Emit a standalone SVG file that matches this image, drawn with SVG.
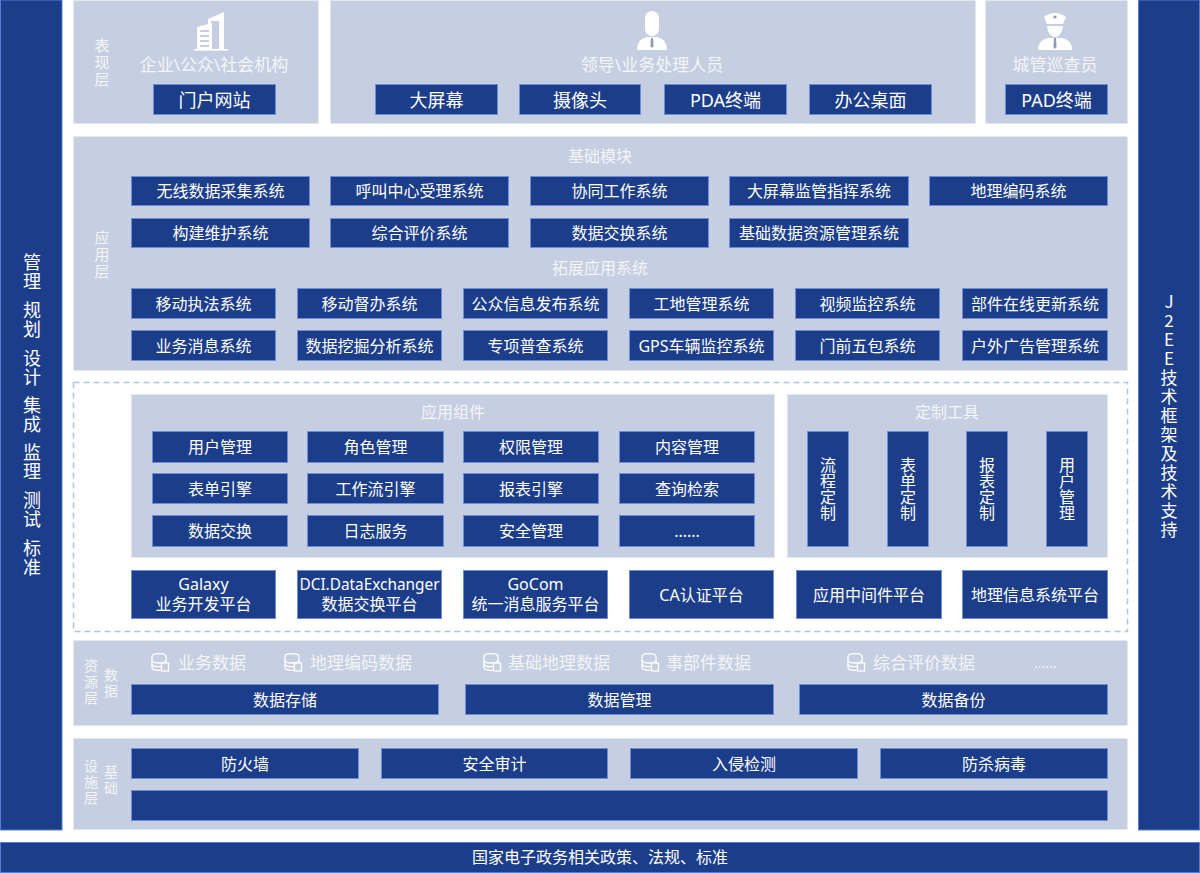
<svg xmlns="http://www.w3.org/2000/svg" xmlns:xlink="http://www.w3.org/1999/xlink" width="1200" height="873" viewBox="0 0 1200 873">
<style>
.panel{fill:#c6cfe1;stroke:#e2e7f1;stroke-width:1;stroke-dasharray:3 2}
.box{fill:#1b3d8a;stroke:#6d8ddc;stroke-width:1}
.bar{fill:#1b3d8a;stroke:#5a7cd2;stroke-width:1}
.t{font-family:"Noto Sans","Noto Sans CJK SC",sans-serif;fill:#ffffff;text-anchor:middle;dominant-baseline:central}
.v{font-family:"Noto Sans CJK SC","Noto Sans",sans-serif;fill:#ffffff;text-anchor:middle;writing-mode:vertical-rl;text-orientation:upright}
.s{text-anchor:start}
.f18{font-size:18px}.f17{font-size:17px}.f16{font-size:16px}.f15{font-size:15px}.f14{font-size:14px}
.lbl{fill:#f3f5fa}
.ic{fill:#ffffff}
.icb{fill:#c6cfe1}
</style>
<defs>
<symbol id="db" viewBox="0 0 20 20">
<g fill="none" stroke="#ffffff" stroke-width="1.3">
<path d="M2,4.5 A7,2.8 0 0 1 16,4.5 V15.5 A7,2.8 0 0 1 2,15.5 Z"/>
<path d="M2,8.2 A7,2.8 0 0 0 16,8.2"/>
<path d="M2,11.9 A7,2.8 0 0 0 16,11.9"/>
</g>
<rect x="11.5" y="11" width="7" height="8" fill="#c6cfe1" stroke="#ffffff" stroke-width="1.3"/>
</symbol>
</defs>

<!-- side bars -->
<g id="left-bar">
<rect class="bar" x="0.5" y="0" width="61.5" height="830"/>
<g class="v f18" letter-spacing="1">
<text x="32" y="272">管理</text>
<text x="32" y="320">规划</text>
<text x="32" y="368">设计</text>
<text x="32" y="415">集成</text>
<text x="32" y="462">监理</text>
<text x="32" y="510">测试</text>
<text x="32" y="558">标准</text>
</g>
</g>
<g id="right-bar">
<rect class="bar" x="1138.5" y="0" width="61" height="830"/>
<text class="v f17" letter-spacing="2" x="1169" y="417">J2EE技术框架及技术支持</text>
</g>
<g id="bottom-bar">
<rect class="bar" x="0.5" y="842.5" width="1199" height="30"/>
<text class="t f16" x="600" y="857">国家电子政务相关政策、法规、标准</text>
</g>

<!-- presentation layer -->
<g id="pres-1">
<rect class="panel" x="73.5" y="0.5" width="245" height="123"/>
<text class="v f15 lbl" letter-spacing="2" x="102" y="63">表现层</text>
<g id="icon-building">
<polygon class="ic" points="208,19 224,12 224,50 208,50"/>
<rect class="icb" x="211" y="21" width="8" height="29"/>
<polygon class="ic" points="197,27 212,23 212,50 197,50"/>
<rect class="icb" x="200" y="30" width="9" height="2"/>
<rect class="icb" x="200" y="35" width="9" height="2"/>
<rect class="icb" x="200" y="40" width="9" height="2"/>
<rect class="icb" x="200" y="45" width="9" height="2"/>
<rect class="ic" x="194" y="49" width="34" height="1.6"/>
</g>
<text class="t f17 lbl" x="214" y="64">企业\公众\社会机构</text>
<g id="n-portal"><rect class="box" x="153.5" y="84.5" width="122" height="30"/><text class="t f18" x="214.5" y="99.5">门户网站</text></g>
</g>

<g id="pres-2">
<rect class="panel" x="330.5" y="0.5" width="645" height="123"/>
<g id="icon-person">
<rect class="ic" x="645" y="11" width="14" height="25" rx="7" ry="7"/>
<path class="ic" d="M637,50 Q637,39 647,37 L657,37 Q667,39 667,50 Z"/>
<polygon points="651,38 653,38 653.6,46 652,48 650.4,46" fill="#8f9bb8"/>
</g>
<text class="t f17 lbl" x="652" y="64">领导\业务处理人员</text>
<g id="n-bigscreen"><rect class="box" x="375.5" y="84.5" width="122" height="30"/><text class="t f18" x="436.5" y="99.5">大屏幕</text></g>
<g id="n-camera"><rect class="box" x="519.5" y="84.5" width="121" height="30"/><text class="t f18" x="580" y="99.5">摄像头</text></g>
<g id="n-pda"><rect class="box" x="664.5" y="84.5" width="122" height="30"/><text class="t f18" x="725.5" y="99.5">PDA终端</text></g>
<g id="n-desktop"><rect class="box" x="809.5" y="84.5" width="122" height="30"/><text class="t f18" x="870.5" y="99.5">办公桌面</text></g>
</g>

<g id="pres-3">
<rect class="panel" x="985.5" y="0.5" width="142" height="123"/>
<g id="icon-police">
<path class="ic" d="M1044,17 Q1055,9 1066,17 L1063,24 L1047,24 Z"/>
<circle cx="1055" cy="17" r="1.6" fill="#8f9bb8"/>
<path class="ic" d="M1047,26 L1063,26 L1062,31 Q1059,37 1055,37 Q1051,37 1048,31 Z"/>
<path class="ic" d="M1038,50 Q1038,40 1048,38 L1062,38 Q1072,40 1072,50 Z"/>
<polygon points="1054,38 1056,38 1056.6,47 1055,49 1053.4,47" fill="#8f9bb8"/>
</g>
<text class="t f17 lbl" x="1055" y="64">城管巡查员</text>
<g id="n-pad"><rect class="box" x="1005.5" y="84.5" width="102" height="30"/><text class="t f18" x="1056.5" y="99.5">PAD终端</text></g>
</g>

<!-- application layer -->
<g id="app-layer">
<rect class="panel" x="73.5" y="136.5" width="1054" height="234"/>
<text class="v f15 lbl" letter-spacing="2" x="102" y="255">应用层</text>
<text class="t f16 lbl" x="600" y="156">基础模块</text>
<text class="t f16 lbl" x="600" y="268">拓展应用系统</text>
<g id="n-wx"><rect class="box" x="131.5" y="176.5" width="178" height="29"/><text class="t f16" x="220.5" y="191">无线数据采集系统</text></g>
<g id="n-hj"><rect class="box" x="330.5" y="176.5" width="178" height="29"/><text class="t f16" x="419.5" y="191">呼叫中心受理系统</text></g>
<g id="n-xt"><rect class="box" x="530.5" y="176.5" width="178" height="29"/><text class="t f16" x="619.5" y="191">协同工作系统</text></g>
<g id="n-dp"><rect class="box" x="729.5" y="176.5" width="179" height="29"/><text class="t f16" x="819" y="191">大屏幕监管指挥系统</text></g>
<g id="n-dl"><rect class="box" x="929.5" y="176.5" width="178" height="29"/><text class="t f16" x="1018.5" y="191">地理编码系统</text></g>
<g id="n-gj"><rect class="box" x="131.5" y="218.5" width="178" height="29"/><text class="t f16" x="220.5" y="233">构建维护系统</text></g>
<g id="n-zh"><rect class="box" x="330.5" y="218.5" width="178" height="29"/><text class="t f16" x="419.5" y="233">综合评价系统</text></g>
<g id="n-sj"><rect class="box" x="530.5" y="218.5" width="178" height="29"/><text class="t f16" x="619.5" y="233">数据交换系统</text></g>
<g id="n-jc"><rect class="box" x="729.5" y="218.5" width="179" height="29"/><text class="t f16" x="819" y="233">基础数据资源管理系统</text></g>

<g id="n-ydzf"><rect class="box" x="131.5" y="288.5" width="144" height="30"/><text class="t f16" x="203.5" y="303.5">移动执法系统</text></g>
<g id="n-yddb"><rect class="box" x="297.5" y="288.5" width="144" height="30"/><text class="t f16" x="369.5" y="303.5">移动督办系统</text></g>
<g id="n-gzxx"><rect class="box" x="463.5" y="288.5" width="144" height="30"/><text class="t f16" x="535.5" y="303.5">公众信息发布系统</text></g>
<g id="n-gd"><rect class="box" x="629.5" y="288.5" width="144" height="30"/><text class="t f16" x="701.5" y="303.5">工地管理系统</text></g>
<g id="n-sp"><rect class="box" x="795.5" y="288.5" width="144" height="30"/><text class="t f16" x="867.5" y="303.5">视频监控系统</text></g>
<g id="n-bj"><rect class="box" x="962.5" y="288.5" width="145" height="30"/><text class="t f16" x="1035" y="303.5">部件在线更新系统</text></g>
<g id="n-ywxx"><rect class="box" x="131.5" y="330.5" width="144" height="30"/><text class="t f16" x="203.5" y="345.5">业务消息系统</text></g>
<g id="n-sjwj"><rect class="box" x="297.5" y="330.5" width="144" height="30"/><text class="t f16" x="369.5" y="345.5">数据挖掘分析系统</text></g>
<g id="n-zxpc"><rect class="box" x="463.5" y="330.5" width="144" height="30"/><text class="t f16" x="535.5" y="345.5">专项普查系统</text></g>
<g id="n-gps"><rect class="box" x="629.5" y="330.5" width="144" height="30"/><text class="t f16" x="701.5" y="345.5">GPS车辆监控系统</text></g>
<g id="n-mq"><rect class="box" x="795.5" y="330.5" width="144" height="30"/><text class="t f16" x="867.5" y="345.5">门前五包系统</text></g>
<g id="n-hw"><rect class="box" x="962.5" y="330.5" width="145" height="30"/><text class="t f16" x="1035" y="345.5">户外广告管理系统</text></g>
</g>

<!-- support section -->
<g id="support">
<rect x="73.5" y="382.5" width="1054" height="249" fill="#ffffff" stroke="#b3c3ec" stroke-width="1.5" stroke-dasharray="6 4"/>
<g id="components">
<rect class="panel" x="131.5" y="394.5" width="643" height="163"/>
<text class="t f16 lbl" x="453" y="412">应用组件</text>
<g id="c-yhgl"><rect class="box" x="152.5" y="431.5" width="135" height="31"/><text class="t f16" x="220" y="447">用户管理</text></g>
<g id="c-jsgl"><rect class="box" x="307.5" y="431.5" width="136" height="31"/><text class="t f16" x="375.5" y="447">角色管理</text></g>
<g id="c-qxgl"><rect class="box" x="463.5" y="431.5" width="135" height="31"/><text class="t f16" x="531" y="447">权限管理</text></g>
<g id="c-nrgl"><rect class="box" x="619.5" y="431.5" width="135" height="31"/><text class="t f16" x="687" y="447">内容管理</text></g>
<g id="c-bdyq"><rect class="box" x="152.5" y="473.5" width="135" height="30"/><text class="t f16" x="220" y="488.5">表单引擎</text></g>
<g id="c-gzl"><rect class="box" x="307.5" y="473.5" width="136" height="30"/><text class="t f16" x="375.5" y="488.5">工作流引擎</text></g>
<g id="c-bbyq"><rect class="box" x="463.5" y="473.5" width="135" height="30"/><text class="t f16" x="531" y="488.5">报表引擎</text></g>
<g id="c-cxjs"><rect class="box" x="619.5" y="473.5" width="135" height="30"/><text class="t f16" x="687" y="488.5">查询检索</text></g>
<g id="c-sjjh"><rect class="box" x="152.5" y="515.5" width="135" height="31"/><text class="t f16" x="220" y="531">数据交换</text></g>
<g id="c-rzfw"><rect class="box" x="307.5" y="515.5" width="136" height="31"/><text class="t f16" x="375.5" y="531">日志服务</text></g>
<g id="c-aqgl"><rect class="box" x="463.5" y="515.5" width="135" height="31"/><text class="t f16" x="531" y="531">安全管理</text></g>
<g id="c-more"><rect class="box" x="619.5" y="515.5" width="135" height="31"/><text class="t f16" x="687" y="531">......</text></g>
</g>
<g id="tools">
<rect class="panel" x="787.5" y="394.5" width="320" height="163"/>
<text class="t f16 lbl" x="947" y="412">定制工具</text>
<g id="tl-lc"><rect class="box" x="807.5" y="431.5" width="41" height="115"/><text class="v f16" x="828" y="489">流程定制</text></g>
<g id="tl-bd"><rect class="box" x="887.5" y="431.5" width="41" height="115"/><text class="v f16" x="908" y="489">表单定制</text></g>
<g id="tl-bb"><rect class="box" x="966.5" y="431.5" width="41" height="115"/><text class="v f16" x="987" y="489">报表定制</text></g>
<g id="tl-yh"><rect class="box" x="1046.5" y="431.5" width="41" height="115"/><text class="v f16" x="1067" y="489">用户管理</text></g>
</g>
<g id="p-galaxy"><rect class="box" x="131.5" y="570.5" width="144" height="48"/><text class="t f16"><tspan x="203.5" y="584">Galaxy</tspan><tspan x="203.5" y="604">业务开发平台</tspan></text></g>
<g id="p-dci"><rect class="box" x="297.5" y="570.5" width="144" height="48"/><text class="t f16"><tspan x="369.5" y="584" textLength="140" lengthAdjust="spacingAndGlyphs">DCI.DataExchanger</tspan><tspan x="369.5" y="604">数据交换平台</tspan></text></g>
<g id="p-gocom"><rect class="box" x="463.5" y="570.5" width="144" height="48"/><text class="t f16"><tspan x="535.5" y="584">GoCom</tspan><tspan x="535.5" y="604">统一消息服务平台</tspan></text></g>
<g id="p-ca"><rect class="box" x="629.5" y="570.5" width="144" height="48"/><text class="t f16" x="701.5" y="594.5">CA认证平台</text></g>
<g id="p-mid"><rect class="box" x="796.5" y="570.5" width="145" height="48"/><text class="t f16" x="869" y="594.5">应用中间件平台</text></g>
<g id="p-gis"><rect class="box" x="962.5" y="570.5" width="145" height="48"/><text class="t f16" x="1035" y="594.5">地理信息系统平台</text></g>
</g>

<!-- data resource layer -->
<g id="data-layer">
<rect class="panel" x="73.5" y="640.5" width="1054" height="85"/>
<text class="v f14 lbl" letter-spacing="2" x="91" y="683">资源层</text>
<text class="v f14 lbl" letter-spacing="2" x="111" y="684">数据</text>
<use href="#db" x="150" y="652" width="20" height="20"/>
<text class="t s f17 lbl" x="178" y="662">业务数据</text>
<use href="#db" x="283" y="652" width="20" height="20"/>
<text class="t s f17 lbl" x="310" y="662">地理编码数据</text>
<use href="#db" x="482" y="652" width="20" height="20"/>
<text class="t s f17 lbl" x="508" y="662">基础地理数据</text>
<use href="#db" x="640" y="652" width="20" height="20"/>
<text class="t s f17 lbl" x="666" y="662">事部件数据</text>
<use href="#db" x="846" y="652" width="20" height="20"/>
<text class="t s f17 lbl" x="873" y="662">综合评价数据</text>
<text class="t s f14 lbl" x="1034" y="662">......</text>
<g id="d-store"><rect class="box" x="131.5" y="684.5" width="307" height="30"/><text class="t f16" x="285" y="699.5">数据存储</text></g>
<g id="d-manage"><rect class="box" x="465.5" y="684.5" width="308" height="30"/><text class="t f16" x="619.5" y="699.5">数据管理</text></g>
<g id="d-backup"><rect class="box" x="799.5" y="684.5" width="308" height="30"/><text class="t f16" x="953.5" y="699.5">数据备份</text></g>
</g>

<!-- infrastructure layer -->
<g id="infra-layer">
<rect class="panel" x="73.5" y="738.5" width="1054" height="91"/>
<text class="v f14 lbl" letter-spacing="2" x="91" y="783">设施层</text>
<text class="v f14 lbl" letter-spacing="2" x="111" y="781">基础</text>
<g id="i-fw"><rect class="box" x="131.5" y="748.5" width="227" height="30"/><text class="t f16" x="245" y="763.5">防火墙</text></g>
<g id="i-audit"><rect class="box" x="381.5" y="748.5" width="226" height="30"/><text class="t f16" x="494.5" y="763.5">安全审计</text></g>
<g id="i-ids"><rect class="box" x="630.5" y="748.5" width="227" height="30"/><text class="t f16" x="744" y="763.5">入侵检测</text></g>
<g id="i-av"><rect class="box" x="880.5" y="748.5" width="227" height="30"/><text class="t f16" x="994" y="763.5">防杀病毒</text></g>
<g id="i-base"><rect class="box" x="131.5" y="790.5" width="976" height="30"/></g>
</g>
</svg>
